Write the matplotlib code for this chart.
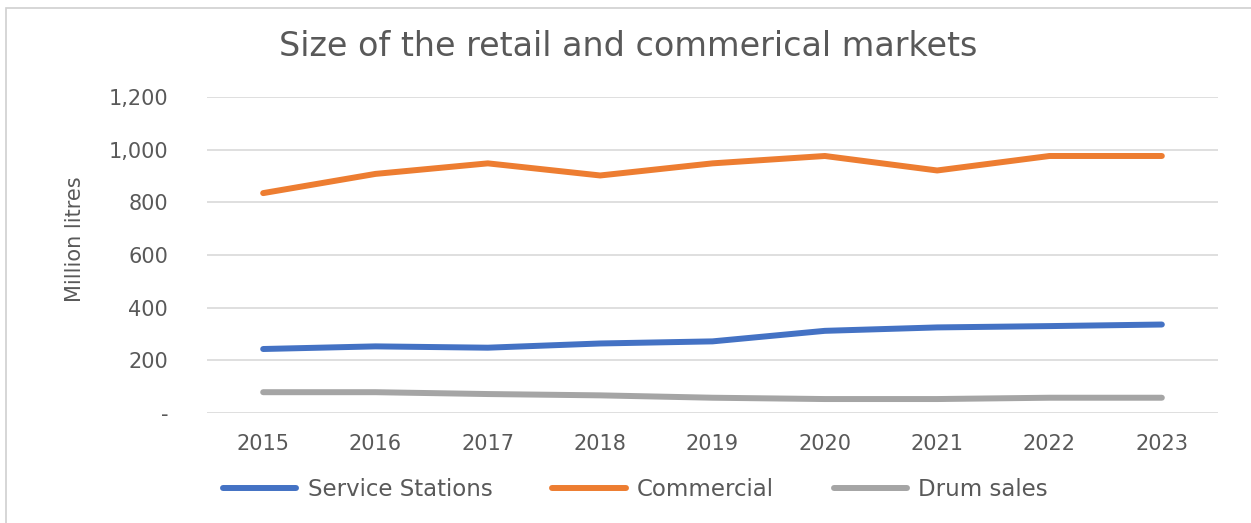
import matplotlib
matplotlib.use("Agg")
import matplotlib.pyplot as plt
from matplotlib.patches import Rectangle
from matplotlib.ticker import FuncFormatter

years = ["2015", "2016", "2017", "2018", "2019", "2020", "2021", "2022", "2023"]
service_stations = [243, 253, 248, 264, 272, 312, 325, 330, 336]
commercial = [835, 908, 948, 902, 948, 976, 921, 976, 976]
drum_sales = [79, 79, 72, 67, 58, 53, 53, 58, 58]

series = [
    ("Service Stations", service_stations, "#4472C4"),
    ("Commercial", commercial, "#ED7D31"),
    ("Drum sales", drum_sales, "#A5A5A5"),
]

plt.rcParams["font.family"] = ["DejaVu Sans"]
text_color = "#595959"

fig = plt.figure(figsize=(12.51, 5.23), dpi=100)
fig.patches.append(Rectangle((6 / 1251, -0.05), 1.1, 1 - 8 / 523 + 0.05,
                             transform=fig.transFigure, fill=False,
                             edgecolor="#D0D0D0", linewidth=1.2))

ax = fig.add_axes([207 / 1251, 1 - 413 / 523, (1218 - 207) / 1251, (413 - 97) / 523])
x = list(range(len(years)))
for name, vals, color in series:
    ax.plot(x, vals, color=color, linewidth=4.3, label=name,
            solid_capstyle="round", solid_joinstyle="round")

ax.set_xlim(-0.5, len(years) - 0.5)
ax.set_ylim(0, 1200)
ax.set_yticks(range(0, 1201, 200))
ax.yaxis.set_major_formatter(FuncFormatter(lambda v, p: "-" if v == 0 else f"{int(v):,}"))
ax.set_xticks(x)
ax.set_xticklabels(years)
ax.grid(axis="y", color="#D9D9D9", linewidth=1.2)
ax.set_axisbelow(True)
for s in ax.spines.values():
    s.set_visible(False)
ax.tick_params(axis="both", length=0, labelsize=15, colors=text_color)
ax.tick_params(axis="y", pad=28)
ax.tick_params(axis="x", pad=15)

ax.set_ylabel("Million litres", fontsize=15, color=text_color)
ax.yaxis.set_label_coords(-0.121, 0.55)
fig.text(0.502, 1 - 46 / 523, "Size of the retail and commerical markets",
         ha="center", va="center", fontsize=24, color=text_color)

fig.legend(loc="center", bbox_to_anchor=(0.508, 1 - 490 / 523), ncol=3,
           frameon=False, fontsize=16.5, handlelength=3.2, handletextpad=0.5,
           columnspacing=2.6, labelcolor=text_color)

fig.savefig("out.png", dpi=100)
